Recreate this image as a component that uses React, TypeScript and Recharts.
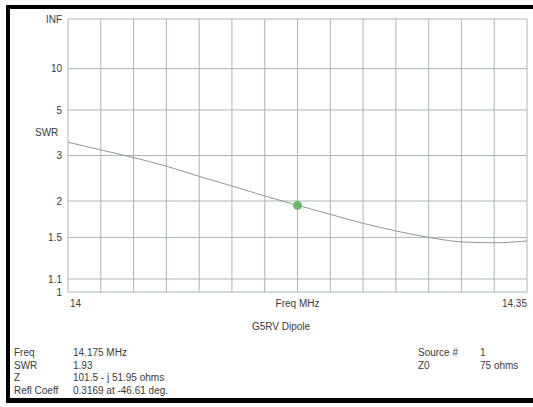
import React from 'react';
import { LineChart, Line, XAxis, YAxis, CartesianGrid, ReferenceDot } from 'recharts';

const freqs = [14.0, 14.025, 14.05, 14.075, 14.1, 14.125, 14.15, 14.175, 14.2, 14.225, 14.25, 14.275, 14.3, 14.325, 14.35];
const swrValues = [3.43, 3.17, 2.94, 2.71, 2.47, 2.27, 2.085, 1.93, 1.795, 1.672, 1.577, 1.5, 1.45, 1.44, 1.46];
const xTickLabels = ['14', '', '', '', '', '', '', 'Freq MHz', '', '', '', '', '', '', '14.35'];
const yTickSwr = [1, 1.1, 1.5, 2, 3, 5, 10, Infinity];
const yTickLabels = ['1', '1.1', '1.5', '2', '3', '5', '10', 'INF'];
const markerFreq = 14.175;
const markerSwr = 1.93;

const infoLeft = [
  ['Freq', '14.175 MHz'],
  ['SWR', '1.93'],
  ['Z', '101.5 - j 51.95 ohms'],
  ['Refl Coeff', '0.3169 at -46.61 deg.'],
];
const infoRight = [
  ['Source #', '1'],
  ['Z0', '75 ohms'],
];

const toRho = (s: number) => (s === Infinity ? 1 : (s - 1) / (s + 1));
const data = freqs.map((f, i) => ({ f, rho: toRho(swrValues[i]) }));
const yTicks = yTickSwr.map(toRho);

const FONT = '"Liberation Sans", Arial, sans-serif';
const TEXT = '#3a3a3a';
const GRID = '#a9b7b2';

const XTick = (props: any) => {
  const { x, y, index } = props;
  const label = xTickLabels[index];
  if (!label) return null;
  const last = index === xTickLabels.length - 1;
  const first = index === 0;
  return (
    <text
      x={first ? x + 2 : x}
      y={y}
      dy="0.71em"
      textAnchor={first ? 'start' : last ? 'end' : 'middle'}
      fontSize={10}
      fontFamily={FONT}
      fill={TEXT}
    >
      {label}
    </text>
  );
};

const YTick = (props: any) => {
  const { y, index } = props;
  return (
    <text x={62} y={y} dy="0.355em" textAnchor="end" fontSize={10} fontFamily={FONT} fill={TEXT}>
      {yTickLabels[index]}
    </text>
  );
};

export default function App() {
  return (
    <div style={{ position: 'absolute', left: 0, top: 0, width: 533, height: 407, background: '#fff', fontFamily: FONT, color: TEXT, overflow: 'hidden' }}>
      <div style={{ position: 'absolute', left: 0, top: 0 }}>
        <LineChart width={533} height={322} data={data} margin={{ top: 19, right: 6, bottom: 0, left: 8 }}>
          <CartesianGrid stroke={GRID} strokeWidth={1} />
          <XAxis
            dataKey="f"
            type="number"
            domain={[14, 14.35]}
            ticks={freqs}
            interval={0}
            axisLine={false}
            tickLine={false}
            height={30}
            tick={<XTick />}
          />
          <YAxis
            type="number"
            domain={[0, 1]}
            ticks={yTicks}
            interval={0}
            axisLine={false}
            tickLine={false}
            width={60}
            tick={<YTick />}
          />
          <Line type="monotone" dataKey="rho" stroke="#8d9996" strokeWidth={1} dot={false} isAnimationActive={false} />
          <ReferenceDot x={markerFreq} y={toRho(markerSwr)} r={4.5} fill="#6cb56a" stroke="none" />
        </LineChart>
      </div>
      <div style={{ position: 'absolute', left: 6, top: 5, width: 4, height: 398, background: '#000' }} />
      <div style={{ position: 'absolute', left: 6, top: 5, width: 527, height: 4, background: '#000' }} />
      <div style={{ position: 'absolute', left: 6, top: 398, width: 527, height: 5, background: '#000' }} />
      <div style={{ position: 'absolute', left: 35, top: 127, fontSize: 10, lineHeight: '12px' }}>SWR</div>
      <div style={{ position: 'absolute', left: 0, width: 562, top: 321, textAlign: 'center', fontSize: 10, lineHeight: '12px' }}>G5RV Dipole</div>
      {infoLeft.map((row, i) => (
        <React.Fragment key={row[0]}>
          <div style={{ position: 'absolute', left: 14, top: 347 + i * 12.5, fontSize: 10, lineHeight: '12px' }}>{row[0]}</div>
          <div style={{ position: 'absolute', left: 73, top: 347 + i * 12.5, fontSize: 10, lineHeight: '12px' }}>{row[1]}</div>
        </React.Fragment>
      ))}
      {infoRight.map((row, i) => (
        <React.Fragment key={row[0]}>
          <div style={{ position: 'absolute', left: 418, top: 347 + i * 12.5, fontSize: 10, lineHeight: '12px' }}>{row[0]}</div>
          <div style={{ position: 'absolute', left: 480, top: 347 + i * 12.5, fontSize: 10, lineHeight: '12px' }}>{row[1]}</div>
        </React.Fragment>
      ))}
    </div>
  );
}
